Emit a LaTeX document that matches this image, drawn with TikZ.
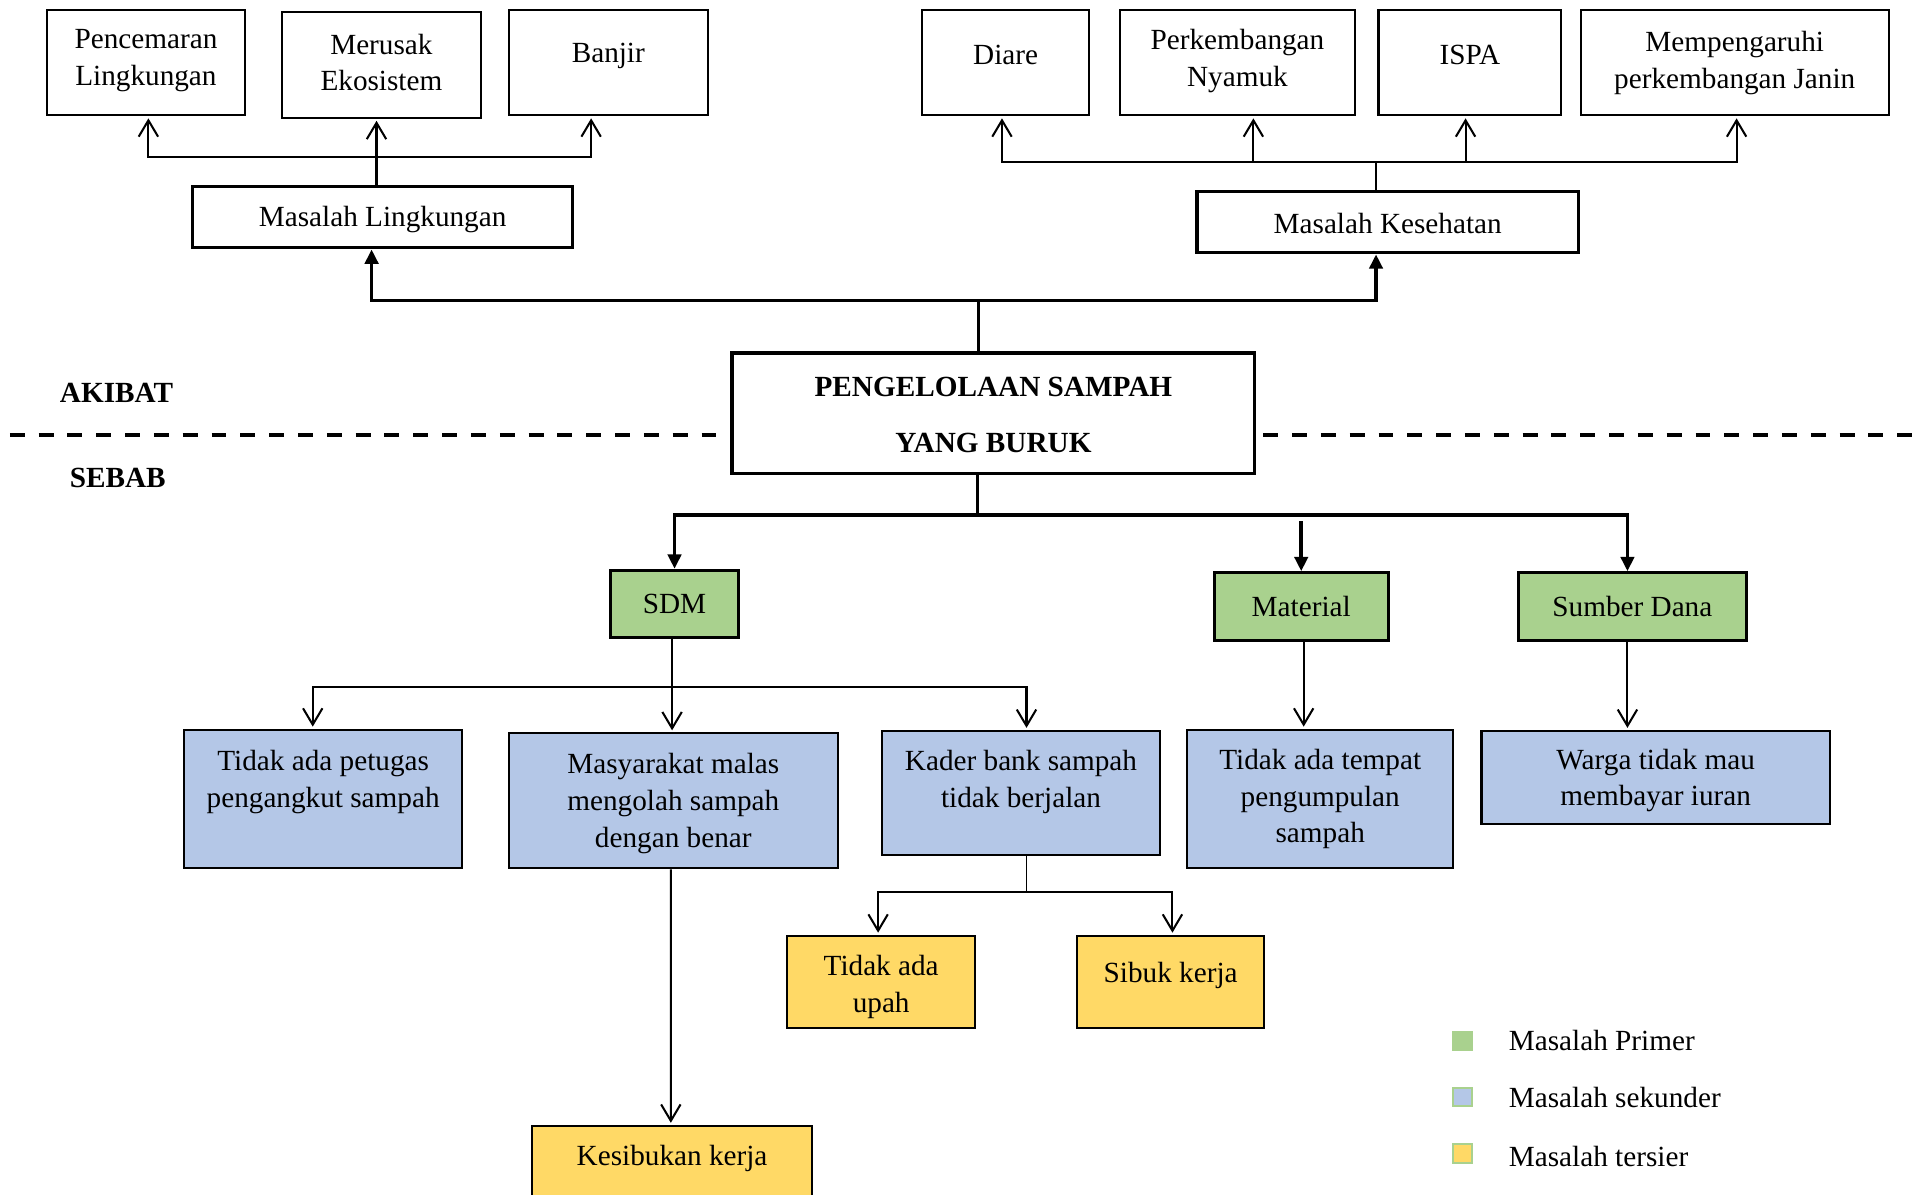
\documentclass[tikz,border=0pt]{standalone}
\usepackage{fontspec}
\setmainfont{Liberation Serif}
\usetikzlibrary{arrows.meta}
\definecolor{prim}{HTML}{A9D18E}
\definecolor{sek}{HTML}{B4C7E7}
\definecolor{ter}{HTML}{FFD966}
\newcommand{\boxfont}{\fontsize{14.3}{18}\selectfont}
\tikzset{
	box/.style 2 args={draw,line width=1pt,inner sep=0pt,minimum width=#1*0.6pt,minimum height=#2*0.6pt},
	tbox/.style 2 args={box={#1}{#2},line width=1.7pt},
	txt/.style={align=center,font=\boxfont,inner sep=0pt},
	ln/.style={line width=1pt},
	tk/.style={line width=1.7pt},
	oarr/.style={-{Straight Barb[length=8pt,width=9.5pt]},shorten >=1pt},
	farr/.style={-{Triangle[length=7pt,width=6.5pt]}},
	leg/.style={draw=prim,line width=1pt,minimum size=9pt,inner sep=0pt},
}
\begin{document}
\begin{tikzpicture}[x=0.6pt,y=-0.6pt]
	\useasboundingbox (0,0) rectangle (1568,974);
	% akibat
	\node[box={162}{86},label={[txt,yshift=0.9pt]center:Pencemaran\\Lingkungan}] (pencemaran) at (119,51) {};
	\node[box={162}{86},label={[txt,yshift=1.2pt]center:Merusak\\Ekosistem}] (merusak) at (311,53) {};
	\node[box={162}{86},label={[txt,yshift=3.3pt]center:Banjir}] (banjir) at (496,51) {};
	\node[box={136}{86},label={[txt,yshift=3.9pt]center:Diare}] (diare) at (820,51) {};
	\node[box={192}{86},label={[txt,yshift=0.9pt]center:Perkembangan\\Nyamuk}] (nyamuk) at (1009,51) {};
	\node[box={149}{86},label={[txt,yshift=3.9pt]center:ISPA}] (ispa) at (1198.5,51) {};
	\node[box={251}{86},label={[txt,yshift=-0.3pt]center:Mempengaruhi\\perkembangan Janin}] (janin) at (1414.5,51) {};
	\node[tbox={310}{50},label={[txt,yshift=-1.2pt]center:Masalah Lingkungan}] (mling) at (312,177) {};
	\node[tbox={311}{50},label={[txt,yshift=-0.6pt]center:Masalah Kesehatan}] (mkes) at (1131.5,181) {};
	\node[tbox={426}{98},label={[txt,yshift=-0.9pt,font=\fontsize{14.3}{27.6}\selectfont\bfseries]center:PENGELOLAAN SAMPAH\\YANG BURUK}] (pokok) at (810,337) {};
	\node[txt,font=\boxfont\bfseries] (akibat) at (95,320) {AKIBAT};
	\node[txt,font=\boxfont\bfseries] (sebab) at (96,390) {SEBAB};
	\draw[line width=2pt,dash pattern=on 7.3pt off 6.8pt] (8,355) -- (590,355);
	\draw[line width=2pt,dash pattern=on 7.3pt off 6.8pt] (1030,355) -- (1568,355);
	% sebab
	\node[box={104}{55},fill=prim,line width=1.5pt,label={[txt]center:SDM}] (sdm) at (550,492.5) {};
	\node[box={142}{55},fill=prim,line width=1.5pt,label={[txt]center:Material}] (material) at (1061,494.5) {};
	\node[box={186}{55},fill=prim,line width=1.5pt,label={[txt]center:Sumber Dana}] (dana) at (1331,494.5) {};
	\node[box={227}{113},fill=sek,label={[txt,yshift=8.4pt]center:Tidak ada petugas\\pengangkut sampah}] (petugas) at (263.5,651.5) {};
	\node[box={268}{110},fill=sek,label={[txt,yshift=-1.2pt]center:Masyarakat malas\\mengolah sampah\\dengan benar}] (masy) at (549,653) {};
	\node[box={227}{101},fill=sek,label={[txt,yshift=5.4pt]center:Kader bank sampah\\tidak berjalan}] (kader) at (832.5,646.5) {};
	\node[box={217}{113},fill=sek,label={[txt]center:Tidak ada tempat\\pengumpulan\\sampah}] (tempat) at (1076.5,651.5) {};
	\node[box={284}{76},fill=sek,label={[txt,yshift=-1.5pt]center:Warga tidak mau\\membayar iuran}] (warga) at (1350,634) {};
	\node[box={153}{75},fill=ter,label={[txt,yshift=-2.7pt]center:Tidak ada\\upah}] (upah) at (718.5,800.5) {};
	\node[box={153}{75},fill=ter,label={[txt,yshift=3pt]center:Sibuk kerja}] (sibuk) at (954.5,800.5) {};
	\node[box={228}{72},fill=ter,label={[txt,yshift=5.7pt]center:Kesibukan kerja}] (kesibukan) at (548,954) {};
	% legenda
	\node[leg,fill=prim] (lprim) at (1192.5,849) {};
	\node[leg,fill=sek] (lsek) at (1192.5,894.5) {};
	\node[leg,fill=ter] (lter) at (1192.5,940.5) {};
	\node[txt,anchor=west] (tprim) at (1230,848) {Masalah Primer};
	\node[txt,anchor=west] (tsek) at (1230,895) {Masalah sekunder};
	\node[txt,anchor=west] (tter) at (1230,943) {Masalah tersier};
	% panah atas
	\coordinate (ja) at (798,245);
	\draw[tk,farr] (pokok.north -| ja) -- (ja) -| ([xshift=-5.4pt]mling.south);
	\draw[tk,farr] (ja) -| ([xshift=-5.7pt]mkes.south);
	\coordinate (jl) at (307,128);
	\draw[ln,oarr] (mling.north -| jl) -- (merusak.south -| jl);
	\draw[ln,oarr] (jl) -| ([xshift=1.2pt]pencemaran.south);
	\draw[ln,oarr] (jl) -| ([xshift=-8.4pt]banjir.south);
	\coordinate (jr) at (1122,132);
	\draw[line width=0.6pt] (mkes.north -| jr) -- (jr);
	\draw[ln,oarr] (jr) -| ([xshift=-1.8pt]diare.south);
	\draw[ln,oarr] (jr) -| ([xshift=7.8pt]nyamuk.south);
	\draw[ln,oarr] (jr) -| ([xshift=-2.1pt]ispa.south);
	\draw[ln,oarr] (jr) -| ([xshift=0.9pt]janin.south);
	% panah bawah
	\coordinate (jb) at (797,420);
	\draw[tk] (pokok.south -| jb) -- (jb);
	\draw[tk,farr] (jb) -| (sdm.north);
	\draw[tk,farr] (jb) -| ([xshift=-2.4pt]dana.north);
	\draw[tk,farr] ([yshift=-3pt]material.north |- jb) -- (material.north);
	\coordinate (jc) at (548,560);
	\draw[ln,oarr] (sdm.south -| jc) -- (masy.north -| jc);
	\draw[ln,oarr] (jc) -| ([xshift=-5.1pt]petugas.north);
	\draw[ln,oarr] (jc) -| ([xshift=2.7pt]kader.north);
	\draw[ln,oarr] ([xshift=1.2pt]material.south) -- ([xshift=1.2pt]material.south |- tempat.north);
	\draw[ln,oarr] ([xshift=-2.4pt]dana.south) -- ([xshift=-2.4pt]dana.south |- warga.north);
	\coordinate (jd) at (837,727);
	\draw[line width=0.6pt] (kader.south -| jd) -- (jd);
	\draw[ln,oarr] (jd) -| ([xshift=-1.5pt]upah.north);
	\draw[ln,oarr] (jd) -| ([xshift=0.9pt]sibuk.north);
	\draw[ln,oarr] ([xshift=-1.2pt]masy.south) -- ([xshift=-0.6pt]kesibukan.north);
\end{tikzpicture}
\end{document}
